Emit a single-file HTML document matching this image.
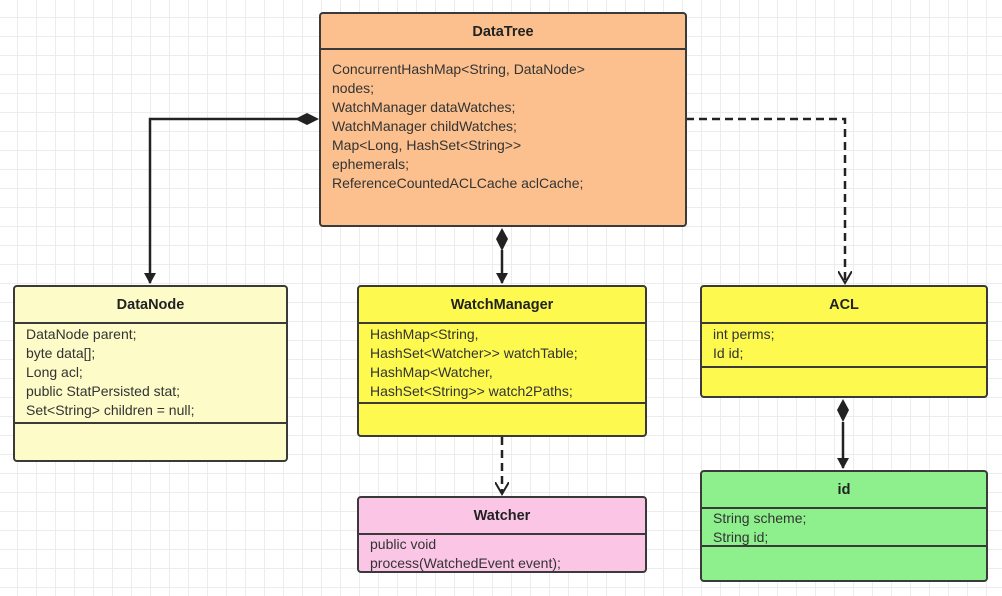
<!DOCTYPE html>
<html><head><style>
body{margin:0;width:1002px;height:596px;overflow:hidden;background:#fff;
background-image:linear-gradient(#ececec 1px,transparent 1px),linear-gradient(90deg,#ececec 1px,transparent 1px);
background-size:19px 19px;background-position:-2px -2px;font-family:"Liberation Sans",sans-serif;}
.b{position:absolute;border:2px solid #3a3a3a;border-radius:4px;box-sizing:border-box;font-size:14px;color:#333;}
.h{font-weight:bold;text-align:center;border-bottom:2px solid #3a3a3a;box-sizing:border-box;font-size:14.5px;color:#222}
.a{padding:1px 0 0 11px;line-height:19px;box-sizing:border-box;white-space:nowrap}
.s{position:absolute;left:0;right:0;border-top:2px solid #3a3a3a}
svg{position:absolute;left:0;top:0}
</style></head><body>
<svg width="1002" height="596">
<defs>
<marker id="f" markerWidth="12" markerHeight="12" refX="10" refY="6" orient="auto" markerUnits="userSpaceOnUse"><path d="M0,0 L11,6 L0,12 Z" fill="#222"/></marker>
<marker id="o" markerWidth="14" markerHeight="14" refX="12" refY="7" orient="auto" markerUnits="userSpaceOnUse"><path d="M0,0 L12,7 L0,14" fill="none" stroke="#222" stroke-width="2"/></marker>
</defs>
<g stroke="#222" stroke-width="2.5" fill="none">
<path d="M305,119 L150,119 L150,283" marker-end="url(#f)"/>
<path d="M502,250 L502,283" marker-end="url(#f)"/>
<path d="M843,422 L843,468" marker-end="url(#f)"/>
<path d="M686,119 L845,119 L845,283" stroke-dasharray="8,5" marker-end="url(#o)"/>
<path d="M502,437 L502,494" stroke-dasharray="8,5" marker-end="url(#o)"/>
</g>
<g fill="#222">
<path d="M319,119 L307,113 L295,119 L307,125 Z"/>
<path d="M502,228 L508,239 L502,251 L496,239 Z"/>
<path d="M843,399 L849,410 L843,422 L837,410 Z"/>
</g>
</svg>
<div class="b" style="left:319px;top:12px;width:368px;height:215px;background:#fcc08e">
<div class="h" style="height:36px;line-height:36px">DataTree</div>
<div class="a" style="padding-top:10px">ConcurrentHashMap&lt;String, DataNode&gt;<br>nodes;<br>WatchManager dataWatches;<br>WatchManager childWatches;<br>Map&lt;Long, HashSet&lt;String&gt;&gt;<br>ephemerals;<br>ReferenceCountedACLCache aclCache;</div>
</div>
<div class="b" style="left:13px;top:285px;width:275px;height:177px;background:#fdfbc8">
<div class="h" style="height:37px;line-height:37px">DataNode</div>
<div class="a">DataNode parent;<br>byte data[];<br>Long acl;<br>public StatPersisted stat;<br>Set&lt;String&gt; children = null;</div>
<div class="s" style="top:135px"></div>
</div>
<div class="b" style="left:357px;top:285px;width:290px;height:152px;background:#fdf94e">
<div class="h" style="height:37px;line-height:37px">WatchManager</div>
<div class="a">HashMap&lt;String,<br>HashSet&lt;Watcher&gt;&gt; watchTable;<br>HashMap&lt;Watcher,<br>HashSet&lt;String&gt;&gt; watch2Paths;</div>
<div class="s" style="top:115px"></div>
</div>
<div class="b" style="left:357px;top:496px;width:290px;height:77px;background:#fbc6e6">
<div class="h" style="height:37px;line-height:37px">Watcher</div>
<div class="a" style="padding-top:0">public void<br>process(WatchedEvent event);</div>
</div>
<div class="b" style="left:700px;top:285px;width:288px;height:113px;background:#fdf94e">
<div class="h" style="height:37px;line-height:37px">ACL</div>
<div class="a" style="padding-top:1px">int perms;<br>Id id;</div>
<div class="s" style="top:79px"></div>
</div>
<div class="b" style="left:700px;top:470px;width:288px;height:112px;background:#8ef08c">
<div class="h" style="height:37px;line-height:37px">id</div>
<div class="a" style="padding-top:0">String scheme;<br>String id;</div>
<div class="s" style="top:73px"></div>
</div>
</body></html>
